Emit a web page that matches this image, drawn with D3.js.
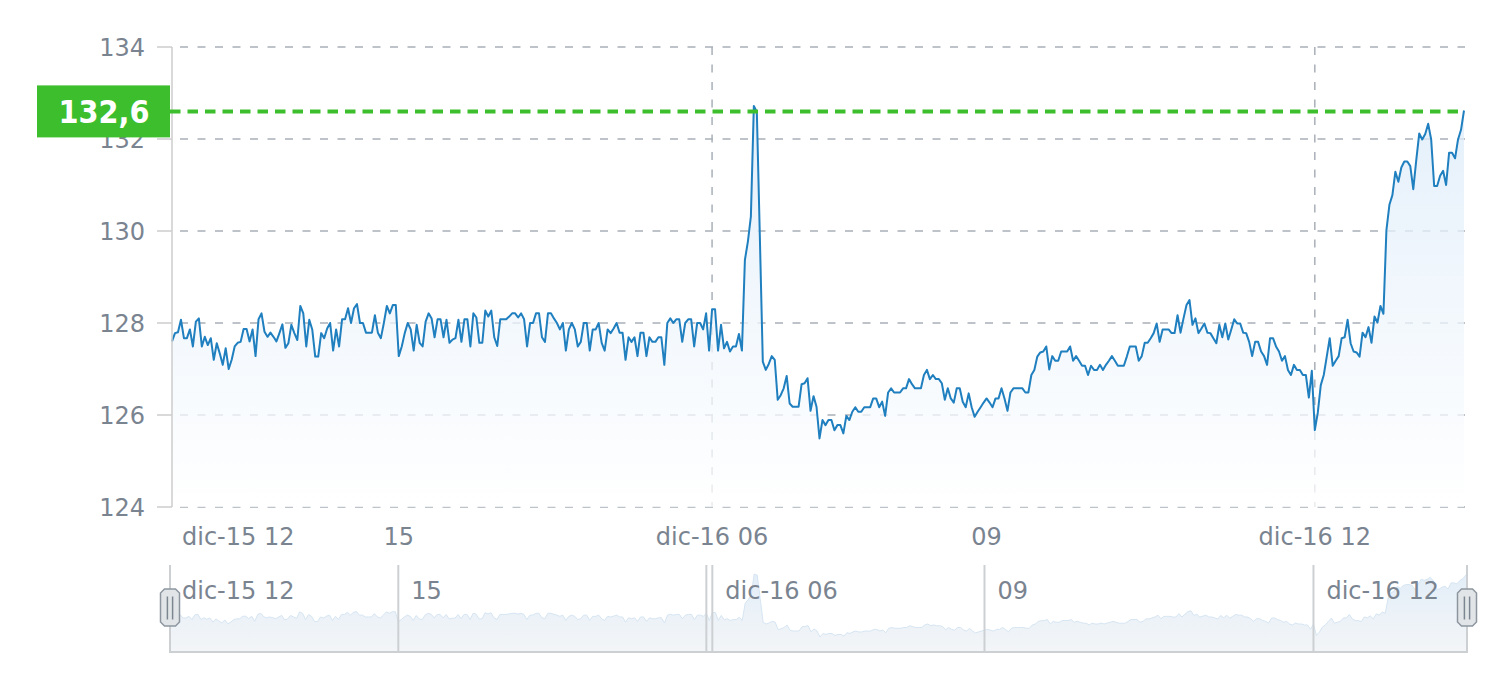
<!DOCTYPE html>
<html><head><meta charset="utf-8">
<script src="https://cdn.jsdelivr.net/npm/d3@7"></script>
<style>body{margin:0;background:#fff;} svg{display:block;}</style>
</head><body><svg id="c" width="1506" height="690"></svg>
<script>
// ---- data ----
const pricesA = [127.6,127.78,127.8,128.07,127.67,127.67,127.86,127.49,128.03,128.1,
127.49,127.7,127.52,127.67,127.2,127.56,127.34,127.09,127.45,127.0,
127.2,127.49,127.57,127.59,127.87,127.87,127.6,127.86,127.28,128.08,
128.21,127.81,127.7,127.79,127.7,127.6,127.78,127.97,127.46,127.56,
127.96,127.78,127.63,128.37,128.21,127.49,128.07,127.86,127.27,127.27,
127.78,127.67,127.88,128.0,127.4,127.86,127.49,128.08,128.08,128.32,
128.0,128.32,128.41,128.0,128.0,127.79,127.79,127.79,128.17,127.79,
127.67,128.0,128.37,128.21,128.39,128.39,127.28,127.49,127.78,128.0,
127.86,127.4,127.96,127.57,127.49,128.03,128.21,128.1,127.69,128.08,128.08];
const pricesB = [127.69,128.07,127.57,127.64,127.67,128.07,127.59,128.08,128.08,127.49,
128.21,128.12,127.57,127.57,128.27,128.14,128.27,127.69,127.5,128.08,
128.08,128.08,128.14,128.21,128.21,128.12,128.21,128.08,127.49,128.0,
128.0,128.21,128.21,127.69,127.59,128.21,128.21,128.1,128.0,127.86,
128.0,127.4,127.86,128.0,127.86,127.49,127.59,128.0,128.0,127.4,
127.86,127.86,128.0,127.57,127.4,127.86,127.78,127.88,128.0,127.79,
127.79,127.2,127.69,127.59,127.69,127.28,127.79,127.79,127.28,127.69,
127.59,127.59,127.69,127.69,127.09,128.0,128.1,128.0,128.08,128.08,
127.59,128.0,128.08,128.08,127.49,128.0,128.0,127.86,128.21,127.4,
128.3,128.3,127.4];
const pricesC = [127.96,127.45,127.59,127.38,127.49,127.49,127.76,127.4,129.37,129.77,
130.31,132.72,132.59,129.9,127.16,126.98,127.11,127.28,127.2,126.33,
126.43,126.58,126.85,126.25,126.18,126.18,126.18,126.67,126.69,126.8,
126.09,126.41,126.18,125.49,125.89,125.78,125.89,125.89,125.67,125.78,
125.78,125.6,125.98,125.89];
const pricesD = [126.07,126.17,126.07,126.07,126.17,126.17,126.17,126.36,126.36,126.17,
126.29,125.98,126.49,126.58,126.49,126.49,126.49,126.58,126.58,126.78,
126.67,126.58,126.58,126.58,126.87,126.98,126.78,126.87,126.78,126.78,
126.69,126.33,126.58,126.36,126.27,126.58,126.58,126.29,126.17,126.47,
126.17,125.96,126.07,126.17,126.27,126.36,126.27,126.17,126.36,126.36,
126.58,126.36,126.09,126.49,126.58,126.58,126.58,126.58,126.49,126.49,
126.87,126.98,127.27,127.36];
const pricesE = [127.38,127.49,126.99,127.28,127.18,127.18,127.38,127.38,127.38,127.49,
127.18,127.28,127.18,127.07,127.07,126.87,127.07,126.98,126.98,127.09,
126.98,127.09,127.18,127.28,127.18,127.07,127.07,127.07,127.27,127.49,
127.49,127.49,127.18,127.28,127.57,127.57,127.67,127.78,127.99,127.59,
127.86,127.86,127.86,127.78,127.78,128.17,127.79,128.1,128.39,128.5,
127.96,128.1,127.78,127.88,127.99,127.79,127.78,127.67,127.56,127.96,
127.69,127.99,127.64,127.86,128.08,127.99,127.99,127.79,127.78,127.59,
127.28,127.59,127.59,127.38,127.28,127.09,127.67,127.67,127.49,127.38,
127.18,127.28,126.98,126.87,127.09,126.98,126.98,126.87,126.87,126.38,
126.96,125.67,126.05];
const pricesF = [126.65,126.87,127.27,127.67,127.07,127.18,127.28,127.67,127.69,128.07,
127.56,127.38,127.36,127.27,127.79,127.69,127.91,127.57,128.14,128.01,
128.37,128.2,130.02,130.57,130.78,131.29,131.07,131.38,131.51,131.51,
131.41,130.91,131.54,132.12,131.99,132.11,132.33,131.99,130.98,130.98,
131.2,131.31,131.0,131.7,131.7,131.58,131.99,132.2,132.62];

const yTickValues = [124, 126, 128, 130, 132, 134];
const xTickIndex  = [0, 76, 181, 273, 383];
const xTickLabels = ["dic-15 12", "15", "dic-16 06", "09", "dic-16 12"];
const xGridIndex  = [181, 383];
const sliderSplitIndex  = [76, 179, 181, 272, 382];
const sliderSplitLabels = ["15", "", "dic-16 06", "09", "dic-16 12"];
const sliderFirstLabel = "dic-15 12";
const lastValue = 132.6;
const lastLabel = "132,6";

const prices = [].concat(pricesA, pricesB, pricesC, pricesD, pricesE, pricesF);
const N = prices.length;

// ---- drawing ----
const svg = d3.select("#c");
const FONT = "'DejaVu Sans', Verdana, sans-serif";
const TXT = "#7a8490";

const x = d3.scaleLinear().domain([0, N - 1]).range([172, 1464]);
const y = d3.scaleLinear().domain([124, 134]).range([507, 47]);

const defs = svg.append("defs");
const g1 = defs.append("linearGradient").attr("id", "areaGrad")
  .attr("gradientUnits", "userSpaceOnUse").attr("x1", 0).attr("x2", 0)
  .attr("y1", y(d3.max(prices))).attr("y2", y(124));
g1.append("stop").attr("offset", 0).attr("stop-color", "#dcebf9");
g1.append("stop").attr("offset", 1).attr("stop-color", "#ffffff");

// horizontal grid
svg.append("g").selectAll("line").data(yTickValues).join("line")
  .attr("x1", 172).attr("x2", 1465)
  .attr("y1", d => y(d)).attr("y2", d => y(d))
  .attr("stroke", "#a9b0b9").attr("stroke-width", 1.5)
  .attr("stroke-dasharray", "8,9.5").attr("stroke-dashoffset", -8);

// vertical grid
svg.append("g").selectAll("line").data(xGridIndex).join("line")
  .attr("x1", d => x(d)).attr("x2", d => x(d))
  .attr("y1", 47).attr("y2", 507)
  .attr("stroke", "#a9b0b9").attr("stroke-width", 1.5)
  .attr("stroke-dasharray", "8,9.5");

// area
const area = d3.area().x((d, i) => x(i)).y0(y(124)).y1(d => y(d));
svg.append("path").datum(prices).attr("d", area)
  .attr("fill", "url(#areaGrad)").attr("fill-opacity", 0.75);

// line
const line = d3.line().x((d, i) => x(i)).y(d => y(d));
svg.append("path").datum(prices).attr("d", line)
  .attr("fill", "none").attr("stroke", "#1f7fbf").attr("stroke-width", 2)
  .attr("stroke-linejoin", "round");

// y axis
const yAxis = svg.append("g");
yAxis.append("line").attr("x1", 172).attr("x2", 172).attr("y1", 47).attr("y2", 507)
  .attr("stroke", "#cccccc").attr("stroke-width", 1.5);
yAxis.selectAll(".tk").data(yTickValues).join("line").attr("class", "tk")
  .attr("x1", 157).attr("x2", 172).attr("y1", d => y(d)).attr("y2", d => y(d))
  .attr("stroke", "#cccccc").attr("stroke-width", 1.5);
yAxis.selectAll("text").data(yTickValues).join("text")
  .attr("x", 145).attr("y", d => y(d) + 8.7).attr("text-anchor", "end")
  .attr("font-family", FONT).attr("font-size", 24).attr("fill", TXT)
  .text(d => d);

// x axis labels
svg.append("g").selectAll("text").data(xTickIndex).join("text")
  .attr("x", (d, i) => i === 0 ? 182 : x(d))
  .attr("y", 545)
  .attr("text-anchor", (d, i) => i === 0 ? "start" : "middle")
  .attr("font-family", FONT).attr("font-size", 24).attr("fill", TXT)
  .text((d, i) => xTickLabels[i]);

// last value marker line
svg.append("line").attr("x1", 170).attr("x2", 1465)
  .attr("y1", y(lastValue)).attr("y2", y(lastValue))
  .attr("stroke", "#3dbf2d").attr("stroke-width", 4)
  .attr("stroke-dasharray", "10.5,7");
svg.append("rect").attr("x", 37).attr("y", y(lastValue) - 26).attr("width", 133).attr("height", 52)
  .attr("fill", "#3dbf2d");
svg.append("text").attr("x", 104).attr("y", y(lastValue) + 12)
  .attr("text-anchor", "middle").attr("fill", "#ffffff")
  .attr("font-family", "'DejaVu Sans Condensed', 'DejaVu Sans', sans-serif")
  .attr("font-stretch", "condensed")
  .attr("font-weight", "bold").attr("font-size", 32)
  .text(lastLabel);

// ---- data zoom slider ----
const sx = d3.scaleLinear().domain([0, N - 1]).range([171, 1466]);
const sy = d3.scaleLinear().domain(d3.extent(prices)).range([637, 574]);
const g2 = defs.append("linearGradient").attr("id", "miniGrad")
  .attr("gradientUnits", "userSpaceOnUse").attr("x1", 0).attr("x2", 0)
  .attr("y1", 574).attr("y2", 652);
g2.append("stop").attr("offset", 0).attr("stop-color", "#e3eef8");
g2.append("stop").attr("offset", 1).attr("stop-color", "#f3f5f7");

const slider = svg.append("g");
slider.append("path").datum(prices)
  .attr("d", d3.area().x((d, i) => sx(i)).y0(652).y1(d => sy(d)))
  .attr("fill", "url(#miniGrad)");
slider.append("path").datum(prices)
  .attr("d", d3.line().x((d, i) => sx(i)).y(d => sy(d)))
  .attr("fill", "none").attr("stroke", "#d6e5f2").attr("stroke-width", 1);

slider.selectAll(".sp").data(sliderSplitIndex).join("line").attr("class", "sp")
  .attr("x1", d => sx(d)).attr("x2", d => sx(d)).attr("y1", 565).attr("y2", 652)
  .attr("stroke", "#cdd0d3").attr("stroke-width", 2);
slider.append("path").attr("d", "M170,565V652H1467V565")
  .attr("fill", "none").attr("stroke", "#cdd0d3").attr("stroke-width", 2);

slider.append("text").attr("x", 182).attr("y", 599)
  .attr("font-family", FONT).attr("font-size", 24).attr("fill", TXT).text(sliderFirstLabel);
slider.selectAll(".sl").data(sliderSplitIndex).join("text").attr("class", "sl")
  .attr("x", d => sx(d) + 13).attr("y", 599)
  .attr("font-family", FONT).attr("font-size", 24).attr("fill", TXT)
  .text((d, i) => sliderSplitLabels[i]);

function handle(cx) {
  const w = 19, h = 37, c = 4, cy = 607.5;
  const l = cx - w / 2, r = cx + w / 2, t = cy - h / 2, b = cy + h / 2;
  const hg = slider.append("g");
  hg.append("path").attr("d",
    `M${l + c},${t}H${r - c}L${r},${t + c}V${b - c}L${r - c},${b}H${l + c}L${l},${b - c}V${t + c}Z`)
    .attr("fill", "#e2e5e8").attr("stroke", "#8d969f").attr("stroke-width", 1.5);
  [-2.6, 2.6].forEach(o => hg.append("line")
    .attr("x1", cx + o).attr("x2", cx + o).attr("y1", cy - 11).attr("y2", cy + 12)
    .attr("stroke", "#7c8690").attr("stroke-width", 1.5));
}
handle(170);
handle(1467);
</script></body></html>
